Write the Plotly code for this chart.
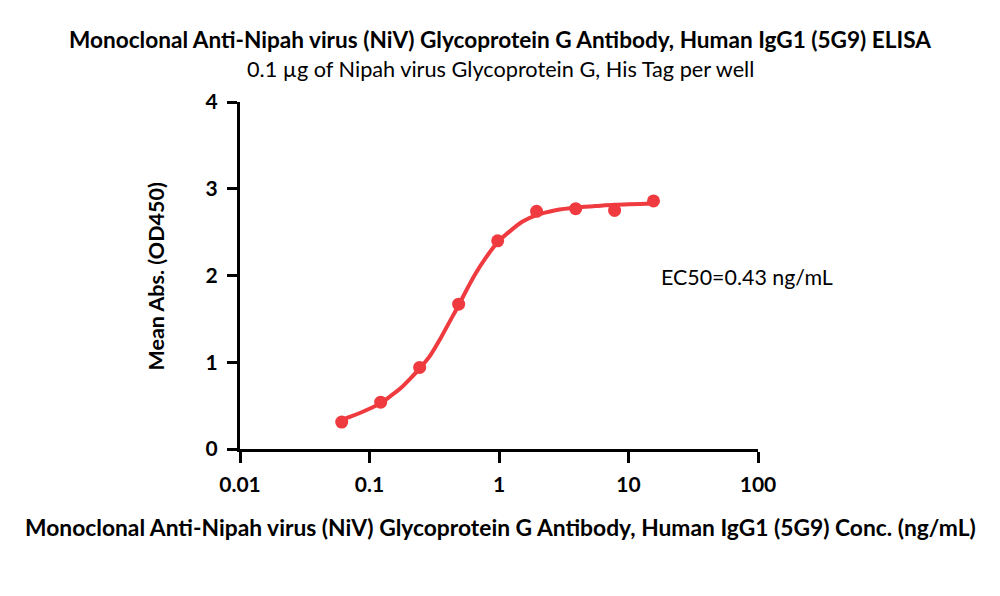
import plotly.graph_objects as go

# Measured data points
conc = [0.061, 0.122, 0.244, 0.488, 0.977, 1.95, 3.91, 7.81, 15.6]
od450 = [0.31, 0.54, 0.94, 1.67, 2.40, 2.74, 2.77, 2.75, 2.86]

# Fitted curve
curve_x = [0.0608, 0.0713, 0.0852, 0.1018, 0.1216, 0.1453, 0.1735, 0.2073,
           0.2445, 0.2958, 0.3534, 0.42, 0.4893, 0.551, 0.658, 0.787,
           0.986, 1.19, 1.51, 1.949, 2.73, 3.945, 5.56, 7.83, 15.67]
curve_y = [0.334, 0.372, 0.418, 0.469, 0.526, 0.61, 0.70, 0.815,
           0.93, 1.083, 1.275, 1.48, 1.66, 1.81, 2.02, 2.20,
           2.39, 2.50, 2.62, 2.696, 2.753, 2.785, 2.80, 2.815, 2.83]

x_ticks = [0.01, 0.1, 1, 10, 100]
x_ticklabels = ["0.01", "0.1", "1", "10", "100"]
y_ticks = [0, 1, 2, 3, 4]

title = "Monoclonal Anti-Nipah virus (NiV) Glycoprotein G Antibody, Human IgG1 (5G9) ELISA"
subtitle = "0.1 µg of Nipah virus Glycoprotein G, His Tag per well"
x_title = "Monoclonal Anti-Nipah virus (NiV) Glycoprotein G Antibody, Human IgG1 (5G9) Conc. (ng/mL)"
y_title = "Mean Abs. (OD450)"
ec50_text = "EC50=0.43 ng/mL"

RED = "#EF3B3F"
FONT = "Lato"

fig = go.Figure()
fig.add_trace(go.Scatter(x=curve_x, y=curve_y, mode="lines",
                         line=dict(color=RED, width=4, shape="spline", smoothing=0.8),
                         hoverinfo="skip", showlegend=False))
fig.add_trace(go.Scatter(x=conc, y=od450, mode="markers",
                         marker=dict(color=RED, size=13, line=dict(width=0)),
                         showlegend=False))

L, R, T, B = 239.5, 758.0, 102.0, 449.0
W, H = 1000, 596

def px(xp):
    return (xp - L) / (R - L)

def py(yp):
    return (B - yp) / (B - T)

fig.update_layout(
    width=W, height=H,
    margin=dict(l=L, r=W - R, t=T, b=H - B, pad=0),
    paper_bgcolor="white", plot_bgcolor="white",
    font=dict(family=FONT, color="black"),
    xaxis=dict(type="log", range=[-2, 2], tickvals=x_ticks, ticktext=x_ticklabels,
               showgrid=False, zeroline=False, showline=True, linecolor="black",
               linewidth=3, ticks="outside", ticklen=11, tickwidth=3, tickcolor="black",
               tickfont=dict(family=FONT, size=21, color="black", weight="bold"),
               ticklabelstandoff=4),
    yaxis=dict(range=[0, 4], tickvals=y_ticks,
               showgrid=False, zeroline=False, showline=True, linecolor="black",
               linewidth=3, ticks="outside", ticklen=10, tickwidth=3, tickcolor="black",
               tickfont=dict(family=FONT, size=21, color="black", weight="bold"),
               ticklabelstandoff=5),
    annotations=[
        dict(text=title, x=px(500), y=py(40), xref="paper", yref="paper",
             showarrow=False, xanchor="center", yanchor="middle",
             font=dict(family=FONT, size=22.6, color="black", weight="bold")),
        dict(text=subtitle, x=px(500), y=py(69), xref="paper", yref="paper",
             showarrow=False, xanchor="center", yanchor="middle",
             font=dict(family=FONT, size=21.7, color="black")),
        dict(text=x_title, x=px(500), y=py(527), xref="paper", yref="paper",
             showarrow=False, xanchor="center", yanchor="middle",
             font=dict(family=FONT, size=22.8, color="black", weight="bold")),
        dict(text=y_title, x=px(155), y=py(276), xref="paper", yref="paper",
             showarrow=False, xanchor="center", yanchor="middle", textangle=-90,
             font=dict(family=FONT, size=21.5, color="black", weight="bold")),
        dict(text=ec50_text, x=px(659), y=py(277), xref="paper", yref="paper",
             showarrow=False, xanchor="left", yanchor="middle",
             font=dict(family=FONT, size=21.4, color="black")),
    ],
)

fig.write_html("out.html")
